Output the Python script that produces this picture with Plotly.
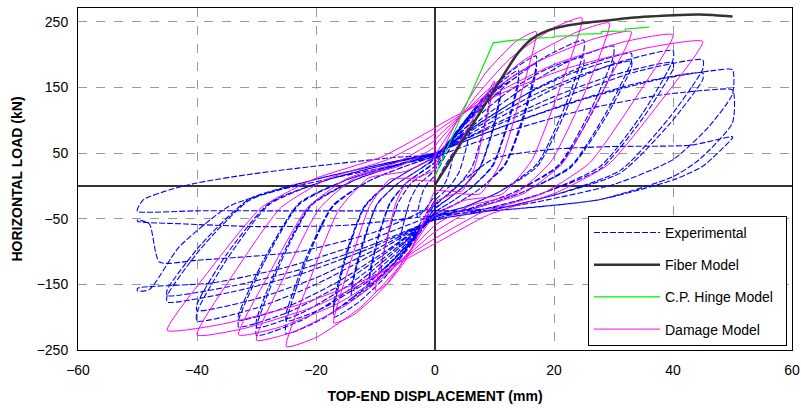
import plotly.graph_objects as go

# ---------------- Experimental cyclic test ----------------
exp_x_03mm = [0, 0.8, 1.6, 2.4, 3.0, 3.0, 2.6, 2.0, 1.3, 0.6, 0, -0.8, -1.6, -2.4, -3.0, -3.0, -2.6, -2.0, -1.3, -0.6, 0]
exp_y_03mm = [0, 16, 30, 41, 50, 46, 28, 10, -2, -9, -15, -25, -35, -43, -48, -44, -26, -8, 3, 10, 16]

exp_x_06mm = [0, 1.5, 3.0, 4.5, 6.0, 6.0, 5.2, 4.1, 2.7, 1.2, 0, -1.5, -3.0, -4.5, -6.0, -6.0, -5.2, -4.1, -2.7, -1.2, 0]
exp_y_06mm = [16, 42, 64, 82, 95, 89, 56, 22, 2, -12, -22, -44, -64, -81, -93, -87, -54, -20, 3, 14, 24]

exp_x_09mm = [0, 2.2, 4.5, 6.8, 9.0, 9.0, 7.8, 6.2, 4.0, 1.8, 0, -2.2, -4.5, -6.8, -9.0, -9.0, -7.8, -6.2, -4.0, -1.8, 0]
exp_y_09mm = [24, 58, 88, 112, 130, 122, 74, 28, 2, -16, -28, -60, -89, -111, -128, -120, -72, -26, 4, 18, 30]

exp_x_11mm = [0, 2.7, 5.5, 8.2, 11.0, 11.0, 9.6, 7.6, 4.9, 2.2, 0, -2.7, -5.5, -8.2, -11.0, -11.0, -9.6, -7.6, -4.9, -2.2, 0]
exp_y_11mm_1 = [30, 68, 104, 132, 152, 143, 84, 30, 0, -20, -34, -70, -104, -131, -150, -141, -82, -28, 4, 21, 35]
exp_y_11mm_2 = [35, 68, 100, 125, 142, 135, 80, 28, 0, -20, -35, -68, -99, -124, -140, -133, -78, -26, 4, 22, 36]

exp_x_14mm = [0, 3.5, 7.0, 10.5, 14.0, 14.0, 12.2, 9.7, 6.2, 2.8, 0, -3.5, -7.0, -10.5, -14.0, -14.0, -12.2, -9.7, -6.2, -2.8, 0]
exp_y_14mm_1 = [36, 80, 122, 154, 176, 162, 96, 32, -2, -24, -40, -80, -118, -148, -170, -157, -92, -28, 4, 24, 40]
exp_y_14mm_2 = [40, 80, 118, 147, 166, 155, 92, 30, -2, -24, -40, -78, -113, -141, -160, -150, -88, -27, 4, 24, 41]

exp_x_17mm = [0, 4.2, 8.5, 12.8, 17.0, 17.0, 14.8, 11.8, 7.6, 3.4, 0, -4.2, -8.5, -12.8, -17.0, -17.0, -14.8, -11.8, -7.6, -3.4, 0]
exp_y_17mm_1 = [40, 90, 138, 175, 198, 182, 106, 34, -4, -28, -43, -92, -140, -177, -200, -186, -104, -32, 5, 28, 43]
exp_y_17mm_2 = [43, 88, 132, 165, 186, 174, 100, 32, -4, -28, -44, -90, -134, -167, -188, -176, -99, -30, 5, 28, 44]

exp_x_25mm = [0, 6.2, 12.5, 18.8, 25.0, 25.0, 21.8, 17.2, 11.0, 5.0, 0, -6.2, -12.5, -18.8, -25.0, -25.0, -21.8, -17.2, -11.0, -5.0, 0]
exp_y_25mm_1 = [44, 104, 158, 198, 222, 205, 120, 34, -8, -32, -46, -104, -160, -202, -225, -206, -118, -32, 8, 30, 45]
exp_y_25mm_2 = [45, 98, 145, 178, 196, 186, 110, 30, -8, -32, -46, -100, -150, -186, -206, -194, -112, -30, 8, 30, 46]

exp_x_30mm = [0, 7.5, 15.0, 22.5, 30.0, 30.0, 26.2, 20.8, 13.2, 6.0, 0, -7.5, -15.0, -22.5, -30.0, -30.0, -26.2, -20.8, -13.2, -6.0, 0]
exp_y_30mm_1 = [46, 100, 150, 190, 213, 198, 116, 32, -10, -34, -48, -106, -162, -205, -228, -214, -122, -30, 10, 32, 47]
exp_y_30mm_2 = [47, 95, 138, 170, 190, 180, 108, 30, -10, -34, -48, -102, -154, -194, -216, -204, -116, -28, 10, 32, 48]

exp_x_33mm = [0, 8.2, 16.5, 24.8, 33.0, 33.0, 28.8, 22.8, 14.6, 6.6, 0, -8.2, -16.5, -24.8, -33.0, -33.0, -28.8, -22.8, -14.6, -6.6, 0]
exp_y_33mm_1 = [48, 100, 146, 182, 202, 190, 112, 30, -10, -34, -48, -102, -154, -193, -215, -204, -118, -28, 10, 32, 48]
exp_y_33mm_2 = [48, 96, 138, 170, 190, 180, 106, 28, -10, -34, -48, -99, -147, -184, -205, -196, -113, -26, 10, 32, 49]

exp_x_40mm = [0, 10.0, 20.0, 30.0, 40.0, 40.0, 35.0, 27.8, 17.8, 8.0, 0, -10.0, -20.0, -30.0, -40.0, -40.0, -35.0, -27.8, -17.8, -8.0, 0]
exp_y_40mm_1 = [49, 100, 148, 186, 206, 192, 112, 30, -12, -36, -50, -102, -150, -186, -206, -192, -112, -28, 10, 33, 49]
exp_y_40mm_2 = [49, 94, 136, 169, 188, 178, 104, 26, -12, -36, -50, -97, -140, -172, -190, -180, -104, -26, 10, 33, 50]

exp_x_45mm = [0, 11.2, 22.5, 33.8, 45.0, 45.0, 39.4, 31.2, 20.0, 9.0, 0, -11.2, -22.5, -33.8, -45.0, -45.0, -39.4, -31.2, -20.0, -9.0, 0]
exp_y_45mm_1 = [50, 96, 138, 174, 192, 178, 104, 24, -14, -38, -52, -96, -134, -161, -177, -167, -96, -22, 10, 33, 50]
exp_y_45mm_2 = [50, 90, 126, 156, 172, 162, 94, 20, -14, -38, -52, -92, -127, -152, -167, -158, -90, -20, 10, 33, 50]

exp_x_50mm_1 = [0, 12.5, 25.0, 37.5, 47.0, 50.0, 50.0, 46.0, 40.0, 30.0, 15.0, 0, -12.5, -25.0, -37.5, -50.0, -50.0, -48.0, -43.0, -34.6, -26.0, -15.0, 0]
exp_y_50mm_1 = [50, 94, 132, 162, 176, 177, 140, 90, 40, 2, -28, -45, -88, -124, -148, -156, -160, -158, -93, -31, -6, 16, 44]

exp_x_50mm_2 = [0, 12.5, 25.0, 37.5, 46.0, 50.0, 50.0, 44.4, 40.0, 27.6, 10.8, 0, -15.0, -30.0, -42.0, -50.0, -50.0, -48.0, -46.3, -39.6, -22.8, -10.0, 0]
exp_y_50mm_2 = [44, 84, 116, 138, 146, 146, 96, 40, 14, -21, -37, -45, -60, -62, -58, -54, -52, -58, -116, -113, -100, -70, -30]

exp_x_50mm_3 = [0, 5.0, 10.0, 20.0, 30.0, 43.0, 50.0, 50.0, 45.0, 40.0, 27.6, 10.8, 0, -10.0, -25.0, -40.0, -50.0, -50.0, -49.0, -44.6, -40.0, -31.7, -23.0, -6.0, 0]
exp_y_50mm_3 = [-30, 10, 42, 56, 60, 62, 75, 73, 30, 9, -21, -37, -38, -38, -38, -38, -39, -35, -21, -6, 4.5, 17, 27, 44, 46]

# ---------------- Damage model ----------------
dmg_x_10mm = [0, 2.5, 5.0, 8.0, 10.0, 8.5, 6.5, 4.5, 2.0, 0, -2.5, -5.0, -8.0, -10.0, -8.5, -6.5, -4.5, -2.0, 0]
dmg_y_10mm = [0, 40, 80, 128, 160, 96, 24, -8, -8, -8, -69, -114, -149, -160, -96, -24, 8, 8, 8]

dmg_x_17mm = [0, 4.2, 8.5, 13.6, 17.0, 14.5, 11.0, 7.6, 3.4, 0, -4.2, -8.5, -13.6, -17.0, -14.5, -11.0, -7.6, -3.4, 0]
dmg_y_17mm = [25, 109, 172, 220, 235, 141, 35, -12, -12, -25, -99, -154, -196, -209, -125, -31, 10, 12, 25]

dmg_x_25mm = [0, 6.2, 12.5, 20.0, 24.7, 21.2, 16.2, 11.2, 5.0, 0, -6.2, -12.5, -20.0, -25.0, -21.2, -16.2, -11.2, -5.0, 0]
dmg_y_25mm = [45, 129, 193, 241, 256, 154, 38, -13, -22, -45, -125, -185, -231, -245, -147, -37, 12, 22, 45]

dmg_x_30mm = [0, 7.5, 15.0, 24.0, 29.3, 25.5, 19.5, 13.5, 6.0, 0, -7.5, -15.0, -24.0, -30.0, -25.5, -19.5, -13.5, -6.0, 0]
dmg_y_30mm = [60, 135, 192, 235, 248, 149, 37, -12, -30, -60, -130, -182, -223, -235, -141, -35, 12, 30, 60]

dmg_x_33mm = [0, 8.2, 16.5, 26.4, 33.0, 28.0, 21.5, 14.8, 6.6, 0, -8.2, -16.5, -26.4, -33.0, -28.0, -21.5, -14.8, -6.6, 0]
dmg_y_33mm = [70, 136, 186, 223, 235, 141, 35, -12, -35, -70, -133, -180, -216, -227, -136, -34, 11, 35, 70]

dmg_x_40mm = [0, 10.0, 20.0, 32.0, 40.0, 34.0, 26.0, 18.0, 8.0, 0, -10.0, -20.0, -32.0, -40.0, -34.0, -26.0, -18.0, -8.0, 0]
dmg_y_40mm = [80, 140, 185, 220, 230, 138, 35, -12, -40, -80, -138, -183, -217, -227, -136, -34, 11, 40, 80]

dmg_x_45mm = [0, 11.2, 22.5, 36.0, 45.0, 38.2, 29.2, 20.2, 9.0, 0, -11.2, -22.5, -36.0, -45.0, -38.2, -29.2, -20.2, -9.0, 0]
dmg_y_45mm = [88, 141, 180, 211, 220, 132, 33, -11, -44, -88, -141, -180, -211, -220, -132, -33, 11, 44, 88]

# ---------------- Monotonic models ----------------
fiber_x = [0, 2, 4, 6, 8, 10, 12, 14, 16, 18, 21, 25, 30, 33, 36, 40, 44.4, 47, 50]
fiber_y = [2, 30, 60, 89, 118, 147, 176, 203, 222, 233, 242, 248, 253, 256, 258, 260, 261, 260, 258]

hinge_x = [0, 9.8, 13.3, 16, 16, 20, 20, 24, 24, 28, 28, 32, 32, 36]
hinge_y = [15, 218, 222, 223, 225, 226, 228, 229, 231, 232, 235, 236, 239, 242]

x_ticks = [-60, -40, -20, 0, 20, 40, 60]
y_ticks = [-250, -150, -50, 50, 150, 250]

exp_cycles = [
    (exp_x_03mm, exp_y_03mm), (exp_x_06mm, exp_y_06mm), (exp_x_09mm, exp_y_09mm),
    (exp_x_11mm, exp_y_11mm_1), (exp_x_11mm, exp_y_11mm_2),
    (exp_x_14mm, exp_y_14mm_1), (exp_x_14mm, exp_y_14mm_2),
    (exp_x_17mm, exp_y_17mm_1), (exp_x_17mm, exp_y_17mm_2),
    (exp_x_25mm, exp_y_25mm_1), (exp_x_25mm, exp_y_25mm_2),
    (exp_x_30mm, exp_y_30mm_1), (exp_x_30mm, exp_y_30mm_2),
    (exp_x_33mm, exp_y_33mm_1), (exp_x_33mm, exp_y_33mm_2),
    (exp_x_40mm, exp_y_40mm_1), (exp_x_40mm, exp_y_40mm_2),
    (exp_x_45mm, exp_y_45mm_1), (exp_x_45mm, exp_y_45mm_2),
    (exp_x_50mm_1, exp_y_50mm_1), (exp_x_50mm_2, exp_y_50mm_2), (exp_x_50mm_3, exp_y_50mm_3),
]
dmg_cycles = [
    (dmg_x_10mm, dmg_y_10mm), (dmg_x_17mm, dmg_y_17mm), (dmg_x_25mm, dmg_y_25mm),
    (dmg_x_30mm, dmg_y_30mm), (dmg_x_33mm, dmg_y_33mm), (dmg_x_40mm, dmg_y_40mm),
    (dmg_x_45mm, dmg_y_45mm),
]


def join(cycles):
    xs, ys = [], []
    for cx, cy in cycles:
        xs += cx
        ys += cy
    return xs, ys


ex, ey = join(exp_cycles)
dx, dy = join(dmg_cycles)

FONT = "Liberation Sans, Arial, sans-serif"
NB = "\u00a0"

fig = go.Figure()
fig.add_trace(go.Scatter(
    x=ex, y=ey, mode="lines", name="Experimental", legendrank=1, legendgroup="a",
    line=dict(color="#0000ff", width=1.1, dash="6px,2px", shape="spline", smoothing=0.6),
))
fig.add_trace(go.Scatter(
    x=dx, y=dy, mode="lines", name="Damage Model", legendrank=4, legendgroup="d",
    line=dict(color="#ff00ff", width=1, shape="spline", smoothing=0.5),
))
fig.add_trace(go.Scatter(
    x=hinge_x, y=hinge_y, mode="lines", name="C.P. Hinge Model" + NB * 2, legendrank=3, legendgroup="c",
    line=dict(color="#00ee00", width=1.2),
))
fig.add_trace(go.Scatter(
    x=fiber_x, y=fiber_y, mode="lines", name="Fiber Model", legendrank=2, legendgroup="b",
    line=dict(color="#333333", width=2.5, shape="spline"),
))

axis_common = dict(
    showline=True, mirror=True, linecolor="black", linewidth=1,
    showgrid=True, gridcolor="#9a9a9a", griddash="dash", gridwidth=1,
    zeroline=True, zerolinecolor="#333333", zerolinewidth=1.5,
    ticks="", tickfont=dict(family=FONT, size=14, color="black"),
    automargin=False,
)

fig.update_xaxes(
    range=[-60, 60], tickvals=x_ticks, ticklabelstandoff=7,
    title=dict(text="<b>TOP-END DISPLACEMENT (mm)</b>", font=dict(family=FONT, size=14, color="black"), standoff=14),
    **axis_common,
)
fig.update_yaxes(
    range=[-250, 271], tickvals=y_ticks, ticklabelstandoff=6,
    title=dict(text=NB * 4 + "<b>HORIZONTAL LOAD (kN)</b>", font=dict(family=FONT, size=14, color="black"), standoff=10),
    **axis_common,
)

fig.update_layout(
    width=801, height=410,
    margin=dict(l=78, r=9, t=8, b=60),
    plot_bgcolor="white", paper_bgcolor="white",
    font=dict(family=FONT, color="black"),
    legend=dict(
        x=0.993, y=0.012, xanchor="right", yanchor="bottom",
        bgcolor="white", bordercolor="black", borderwidth=1,
        font=dict(family=FONT, size=14, color="black"),
        tracegroupgap=11, itemwidth=66,
    ),
)

# the page's default body margin would shift the figure by 8px
fig.write_html(
    "out.html",
    config={"displayModeBar": False},
    post_script="document.body.style.margin='0';",
)
